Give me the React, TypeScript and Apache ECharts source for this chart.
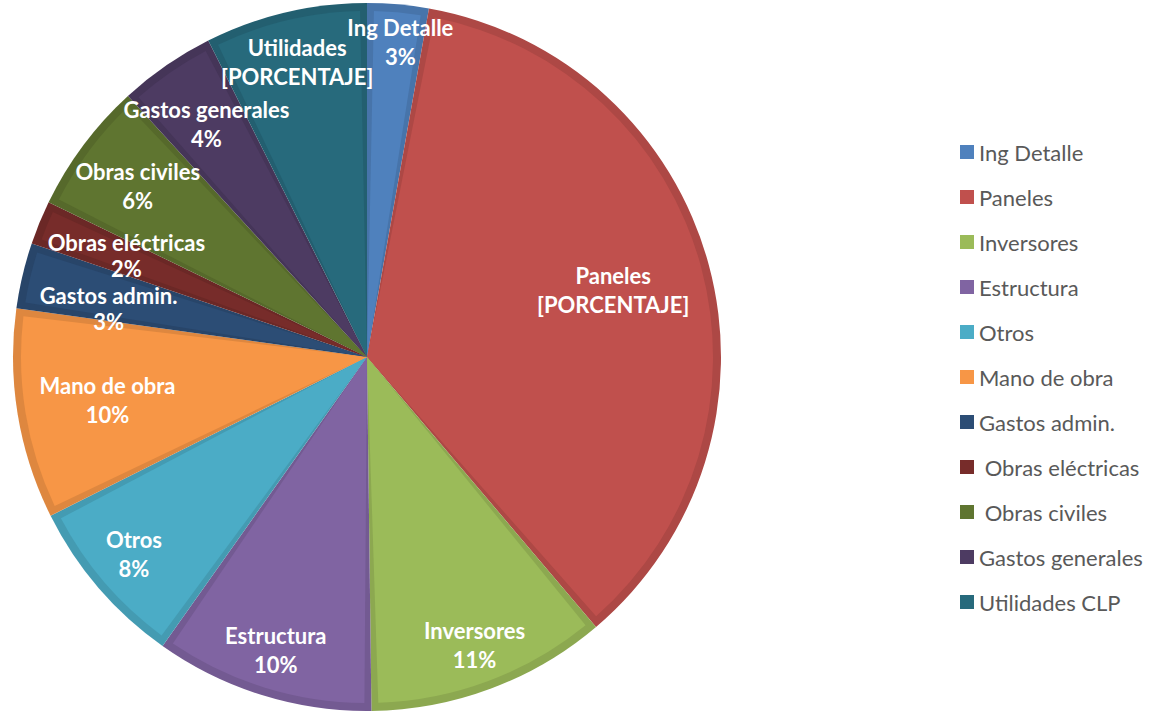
import React, { useEffect, useRef } from "react";
import * as echarts from "echarts";

const legendNames = [
  "Ing Detalle",
  "Paneles",
  "Inversores",
  "Estructura",
  "Otros",
  "Mano de obra",
  "Gastos admin.",
  " Obras eléctricas",
  " Obras civiles",
  "Gastos generales",
  "Utilidades CLP",
];
const labelNames = [
  "Ing Detalle",
  "Paneles",
  "Inversores",
  "Estructura",
  "Otros",
  "Mano de obra",
  "Gastos admin.",
  "Obras eléctricas",
  "Obras civiles",
  "Gastos generales",
  "Utilidades",
];
const values = [2.8, 36.0, 11.0, 10.0, 7.8, 9.6, 3.0, 2.0, 6.0, 4.4, 7.4];
const placeholderLabels = [null, "[PORCENTAJE]", null, null, null, null, null, null, null, null, "[PORCENTAJE]"];

const colors = ["#4F81BD", "#C0504D", "#9BBB59", "#8064A2", "#4BACC6", "#F79646", "#2C4D75", "#772C2A", "#5F7530", "#4D3B62", "#276A7C"];

// layout (not data)
const CX = 367;
const CY = 357;
const R_OUT = 354;
const R_IN = 346;
const labelRadius = [317, 255, 307, 307, 305, 263, 263, 261, 286, 283, 303];
const labelAngleShift = [1, 0, 0, 0, 0.5, 0, -2.6, 0.5, 0, 0, 0];
const labelLineHeight = [29, 29, 29, 29, 29, 29, 26, 26, 29, 29, 29];

function darken(hex: string, f: number) {
  const n = parseInt(hex.slice(1), 16);
  const r = Math.round(((n >> 16) & 255) * f);
  const g = Math.round(((n >> 8) & 255) * f);
  const b = Math.round((n & 255) * f);
  return "rgb(" + r + "," + g + "," + b + ")";
}

export default function App() {
  const ref = useRef<HTMLDivElement>(null);
  useEffect(() => {
    if (!ref.current) return;
    const chart = echarts.init(ref.current, undefined, { renderer: "svg" });
    const total = values.reduce((a, b) => a + b, 0);
    const mids: number[] = [];
    let cum = 0;
    values.forEach((v, i) => {
      mids.push(((cum + v / 2) / total) * Math.PI * 2 + (labelAngleShift[i] * Math.PI) / 180);
      cum += v;
    });
    const mainData = values.map((v, i) => ({
      name: legendNames[i],
      value: v,
      itemStyle: { color: colors[i] },
      label: { lineHeight: labelLineHeight[i] },
    }));
    const darkData = values.map((v, i) => ({
      name: legendNames[i],
      value: v,
      itemStyle: { color: darken(colors[i], 0.9) },
    }));
    chart.setOption({
      animation: false,
      legend: {
        orient: "vertical",
        left: 955,
        top: 136,
        itemWidth: 14,
        itemHeight: 14,
        itemGap: 23,
        icon: "rect",
        selectedMode: false,
        itemStyle: { borderWidth: 0 },
        textStyle: { fontFamily: "Lato", fontSize: 22, color: "#595959" },
        data: legendNames,
      },
      series: [
        {
          type: "pie",
          z: 3,
          center: [CX, CY],
          radius: [0, R_IN],
          startAngle: 90,
          clockwise: true,
          padAngle: 2.3,
          avoidLabelOverlap: false,
          emphasis: { disabled: true },
          silent: true,
          itemStyle: { borderWidth: 0 },
          label: {
            show: true,
            position: "inside",
            color: "#ffffff",
            fontFamily: "Lato",
            fontWeight: "bold",
            fontSize: 22,
            lineHeight: 29,
            align: "center",
            formatter: (p: any) => {
              const i = p.dataIndex;
              const second = placeholderLabels[i] ?? Math.round((values[i] / total) * 100) + "%";
              return labelNames[i] + "\n" + second;
            },
          },
          labelLine: { show: false },
          labelLayout: (p: any) => {
            const i = p.dataIndex;
            const a = mids[i];
            return {
              x: CX + labelRadius[i] * Math.sin(a),
              y: CY - labelRadius[i] * Math.cos(a),
              align: "center",
              verticalAlign: "middle",
            };
          },
          data: mainData,
        },
        {
          type: "pie",
          z: 2,
          center: [CX, CY],
          radius: [0, R_OUT],
          startAngle: 90,
          clockwise: true,
          emphasis: { disabled: true },
          silent: true,
          itemStyle: { borderWidth: 0 },
          label: { show: false },
          labelLine: { show: false },
          data: darkData,
        },
      ],
    });
    return () => chart.dispose();
  }, []);
  return (
    <div
      ref={ref}
      style={{ position: "absolute", left: 0, top: 0, width: 1158, height: 711, background: "#ffffff" }}
    />
  );
}
